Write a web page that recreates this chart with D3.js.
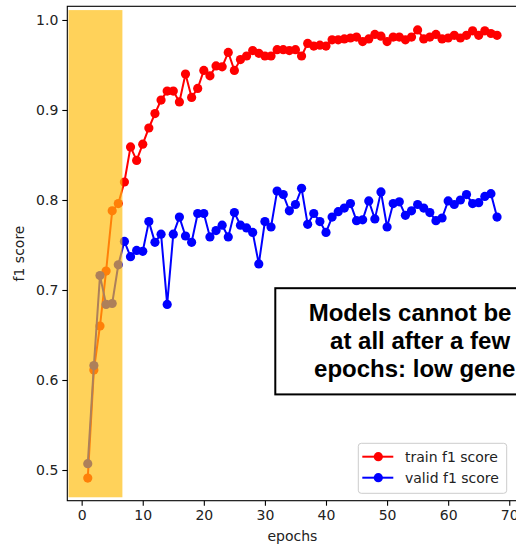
<!DOCTYPE html>
<html>
<head>
<meta charset="utf-8">
<script src="https://cdn.jsdelivr.net/npm/d3@7"></script>
<style>
  body { margin: 0; background: #fff; }
  svg { display: block; font-family: "DejaVu Sans", sans-serif; }
</style>
</head>
<body>
<svg id="chart" width="516" height="545"></svg>
<script>
// epochs on the x axis
const epochs = [1,2,3,4,5,6,7,8,9,10,11,12,13,14,15,16,17,18,19,20,21,22,23,24,25,26,27,28,29,30,31,32,33,34,
  35,36,37,38,39,40,41,42,43,44,45,46,47,48,49,50,51,52,53,54,55,56,57,58,59,60,61,62,63,64,65,66,67,68];

const trainF1 = [0.491,0.611,0.660,0.721,0.788,0.796,0.820,0.859,0.844,0.862,
  0.880,0.896,0.911,0.921,0.921,0.909,0.940,0.914,0.924,0.944,
  0.938,0.949,0.948,0.964,0.944,0.956,0.960,0.966,0.963,0.960,
  0.960,0.967,0.967,0.966,0.967,0.960,0.974,0.971,0.972,0.971,
  0.978,0.978,0.979,0.980,0.981,0.976,0.979,0.984,0.982,0.976,
  0.981,0.981,0.978,0.981,0.989,0.979,0.981,0.984,0.979,0.980,
  0.983,0.980,0.983,0.988,0.983,0.988,0.985,0.983];

const validF1 = [0.507,0.616,0.716,0.684,0.685,0.728,0.754,0.737,0.744,0.743,
  0.776,0.753,0.762,0.684,0.762,0.781,0.760,0.753,0.785,0.785,
  0.759,0.766,0.772,0.759,0.786,0.772,0.769,0.764,0.729,0.776,
  0.770,0.810,0.806,0.788,0.795,0.813,0.773,0.785,0.776,0.764,
  0.781,0.787,0.791,0.796,0.777,0.778,0.799,0.779,0.809,0.770,
  0.796,0.798,0.783,0.788,0.795,0.791,0.786,0.777,0.780,0.799,
  0.795,0.800,0.806,0.796,0.797,0.804,0.807,0.781];

const xTicks = [0, 10, 20, 30, 40, 50, 60, 70];
const yTicks = [0.5, 0.6, 0.7, 0.8, 0.9, 1.0];
const seriesNames = ["train f1 score", "valid f1 score"];
const noteLines = ["Models cannot be improved", "at all after a few training", "epochs: low generalization"];

// highlighted early-epoch span and note box, in data units
const spanX = [-2.15, 6.67], spanY = [0.4697, 1.011];
const noteX = [31.7, 94.6], noteY = [0.702, 0.584];

const svg = d3.select("#chart");
const plotLeft = 67.3, plotRight = 517.5, plotTop = 6.3, plotBottom = 500.7;

const x = d3.scaleLinear().domain([-2.35, 71.35]).range([plotLeft, plotRight]);
const y = d3.scaleLinear().domain([0.4659, 1.0152]).range([plotBottom, plotTop]);

const series = [
  { name: seriesNames[0], values: trainF1, color: "#ff0000" },
  { name: seriesNames[1], values: validF1, color: "#0000ff" }
];

const line = d3.line().x((d, i) => x(epochs[i])).y(d => y(d));

series.forEach(s => {
  const g = svg.append("g");
  g.append("path")
    .attr("d", line(s.values))
    .attr("fill", "none")
    .attr("stroke", s.color)
    .attr("stroke-width", 2);
  g.selectAll("circle")
    .data(s.values)
    .enter()
    .append("circle")
    .attr("cx", (d, i) => x(epochs[i]))
    .attr("cy", d => y(d))
    .attr("r", 4.6)
    .attr("fill", s.color);
});

// yellow span drawn over the curves
svg.append("rect")
  .attr("x", x(spanX[0]))
  .attr("y", y(spanY[1]))
  .attr("width", x(spanX[1]) - x(spanX[0]))
  .attr("height", y(spanY[0]) - y(spanY[1]))
  .attr("fill", "#ffbc0c")
  .attr("fill-opacity", 0.68);

// axes
const xAxis = svg.append("g")
  .attr("transform", `translate(0,${plotBottom})`)
  .call(d3.axisBottom(x).tickValues(xTicks).tickSize(5).tickPadding(4).tickFormat(d3.format("d")));
const yAxis = svg.append("g")
  .attr("transform", `translate(${plotLeft},0)`)
  .call(d3.axisLeft(y).tickValues(yTicks).tickSize(5).tickPadding(4).tickFormat(d3.format(".1f")));

[xAxis, yAxis].forEach(a => {
  a.select(".domain").remove();
  a.selectAll("line").attr("stroke", "#000").attr("stroke-width", 1.1);
  a.selectAll("text").attr("font-size", 14).attr("fill", "#222").attr("font-family", "DejaVu Sans");
});

// frame
svg.append("rect")
  .attr("x", plotLeft).attr("y", plotTop)
  .attr("width", plotRight - plotLeft).attr("height", plotBottom - plotTop)
  .attr("fill", "none").attr("stroke", "#000").attr("stroke-width", 1.1);

svg.append("text")
  .attr("x", (plotLeft + plotRight) / 2).attr("y", 541)
  .attr("text-anchor", "middle").attr("font-size", 14).attr("fill", "#222")
  .text("epochs");

svg.append("text")
  .attr("transform", `translate(24,${(plotTop + plotBottom) / 2}) rotate(-90)`)
  .attr("text-anchor", "middle").attr("font-size", 14).attr("fill", "#222")
  .text("f1 score");

// note box
svg.append("rect")
  .attr("x", x(noteX[0])).attr("y", y(noteY[0]))
  .attr("width", x(noteX[1]) - x(noteX[0]))
  .attr("height", y(noteY[1]) - y(noteY[0]))
  .attr("fill", "#fff").attr("stroke", "#000").attr("stroke-width", 2);

svg.append("g").selectAll("text")
  .data(noteLines)
  .enter()
  .append("text")
  .attr("x", (x(noteX[0]) + x(noteX[1])) / 2)
  .attr("y", (d, i) => y(noteY[0]) + 33 + i * 28)
  .attr("text-anchor", "middle")
  .attr("font-family", "Liberation Sans, Arial, sans-serif")
  .attr("font-weight", "bold")
  .attr("font-size", 24)
  .attr("fill", "#000")
  .text(d => d);

// legend
const legend = svg.append("g").attr("transform", "translate(358.3,443.3)");
legend.append("rect")
  .attr("width", 148.4).attr("height", 50)
  .attr("rx", 3)
  .attr("fill", "#fff").attr("fill-opacity", 0.8)
  .attr("stroke", "#ccc");
series.forEach((s, i) => {
  const row = legend.append("g").attr("transform", `translate(0,${13.4 + i * 21})`);
  row.append("line").attr("x1", 4).attr("x2", 35).attr("stroke", s.color).attr("stroke-width", 2);
  row.append("circle").attr("cx", 20).attr("r", 4.6).attr("fill", s.color);
  row.append("text")
    .attr("x", 46.7).attr("dy", "0.35em")
    .attr("font-size", 14).attr("fill", "#222")
    .text(s.name);
});
</script>
</body>
</html>
